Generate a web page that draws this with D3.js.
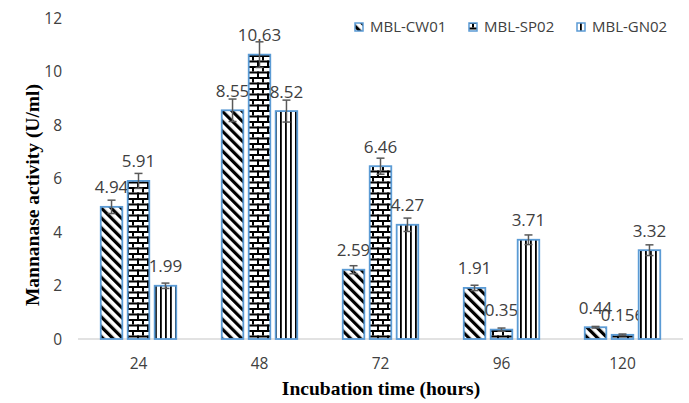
<!DOCTYPE html>
<html>
<head>
<meta charset="utf-8">
<script src="https://cdn.jsdelivr.net/npm/d3@7"></script>
<style>
html,body{margin:0;padding:0;background:#fff}
svg{display:block}
</style>
</head>
<body>
<svg id="chart" width="689" height="403"></svg>
<script>
let hours=["24","48","72","96","120"]
let strains=["MBL-CW01","MBL-SP02","MBL-GN02"]
let cw01=[4.94,8.55,2.59,1.91,0.44]
let sp02=[5.91,10.63,6.46,0.35,0.156]
let gn02=[1.99,8.52,4.27,3.71,3.32]
let cw01Err=[0.25,0.42,0.15,0.1,0.03]
let sp02Err=[0.28,0.48,0.3,0.06,0.03]
let gn02Err=[0.1,0.41,0.25,0.18,0.2]
let yTicks=[0,2,4,6,8,10,12]

let values=[cw01,sp02,gn02]
let errs=[cw01Err,sp02Err,gn02Err]

let svg=d3.select("#chart")
let font="'Open Sans', sans-serif"
let serif="'Liberation Serif','Times New Roman',serif"
let blue="#5b9bd5"

// patterns
let defs=svg.append("defs")
let p1=defs.append("pattern").attr("id","pat0").attr("patternUnits","userSpaceOnUse")
.attr("width",7).attr("height",7).attr("patternTransform","rotate(-45)")
p1.append("rect").attr("width",7).attr("height",7).attr("fill","#fff")
p1.append("rect").attr("x",0).attr("width",3.2).attr("height",7).attr("fill","#000")

let p2=defs.append("pattern").attr("id","pat1").attr("patternUnits","userSpaceOnUse")
.attr("width",10).attr("height",11)
p2.append("rect").attr("width",10).attr("height",11).attr("fill","#fff")
p2.append("rect").attr("y",0).attr("width",10).attr("height",2).attr("fill","#000")
p2.append("rect").attr("y",5.5).attr("width",10).attr("height",2).attr("fill","#000")
p2.append("rect").attr("x",2).attr("y",0).attr("width",2).attr("height",5.5).attr("fill","#000")
p2.append("rect").attr("x",7).attr("y",5.5).attr("width",2).attr("height",5.5).attr("fill","#000")

let p3=defs.append("pattern").attr("id","pat2").attr("patternUnits","userSpaceOnUse")
.attr("width",5).attr("height",5)
p3.append("rect").attr("width",5).attr("height",5).attr("fill","#fff")
p3.append("rect").attr("x",0).attr("width",1.8).attr("height",5).attr("fill","#000")

let x0=d3.scaleBand().domain(hours).range([78,683])
let x1=d3.scaleBand().domain(strains).range([-37.75,37.75]).paddingInner(0.2)
let y=d3.scaleLinear().domain([0,12]).range([339,18])

// y tick labels
svg.append("g").selectAll("text").data(yTicks).enter().append("text")
.attr("x",62).attr("y",d=>y(d)).attr("dy","0.36em")
.attr("text-anchor","end").attr("font-family",font).attr("font-size",15.5)
.attr("fill","#404040").text(d=>d)

// baseline
svg.append("line").attr("x1",78).attr("x2",683)
.attr("y1",y(0)).attr("y2",y(0)).attr("stroke","#d9d9d9").attr("stroke-width",1.5)

// x tick labels
svg.append("g").selectAll("text").data(hours).enter().append("text")
.attr("x",d=>x0(d)+x0.bandwidth()/2).attr("y",369)
.attr("text-anchor","middle").attr("font-family",font).attr("font-size",15.5)
.attr("fill","#404040").text(d=>d)

strains.forEach((s,i)=>{
let g=svg.append("g")
let rows=hours.map((h,j)=>({h:h,v:values[i][j],e:errs[i][j]}))
let cx=d=>x0(d.h)+x0.bandwidth()/2+x1(s)+x1.bandwidth()/2

g.selectAll("rect").data(rows).enter().append("rect")
.attr("x",d=>x0(d.h)+x0.bandwidth()/2+x1(s))
.attr("width",x1.bandwidth())
.attr("y",d=>y(d.v)).attr("height",d=>y(0)-y(d.v))
.attr("fill","url(#pat"+i+")")
.attr("stroke",blue).attr("stroke-width",1.8)

// error bars
rows.forEach(d=>{
let x=cx(d)
g.append("line").attr("x1",x).attr("x2",x)
.attr("y1",y(d.v+d.e)).attr("y2",y(d.v-d.e))
.attr("stroke","#595959").attr("stroke-width",1.5)
;[d.v+d.e,d.v-d.e].forEach(v=>{
g.append("line").attr("x1",x-4).attr("x2",x+4)
.attr("y1",y(v)).attr("y2",y(v))
.attr("stroke","#595959").attr("stroke-width",1.5)
})
})

g.selectAll("text").data(rows).enter().append("text")
.attr("x",cx).attr("y",d=>y(d.v)-13.5)
.attr("text-anchor","middle").attr("font-family",font).attr("font-size",17)
.attr("fill","#404040").text(d=>d.v)
})

// legend
let legX=[355,469,577]
strains.forEach((s,i)=>{
svg.append("rect").attr("x",legX[i]).attr("y",23).attr("width",8).attr("height",8)
.attr("fill","url(#pat"+i+")").attr("stroke",blue).attr("stroke-width",1.5)
svg.append("text").attr("x",legX[i]+15).attr("y",27).attr("dy","0.36em")
.attr("font-family",font).attr("font-size",15).attr("fill","#404040").text(s)
})

// axis titles
svg.append("text").attr("x",381).attr("y",395)
.attr("text-anchor","middle").attr("font-family",serif).attr("font-weight","bold")
.attr("font-size",19.5).attr("fill","#000").text("Incubation time (hours)")

svg.append("text").attr("transform","translate(39,195) rotate(-90)")
.attr("text-anchor","middle").attr("font-family",serif).attr("font-weight","bold")
.attr("font-size",19.5).attr("fill","#000").text("Mannanase activity (U/ml)")
</script>
</body>
</html>
